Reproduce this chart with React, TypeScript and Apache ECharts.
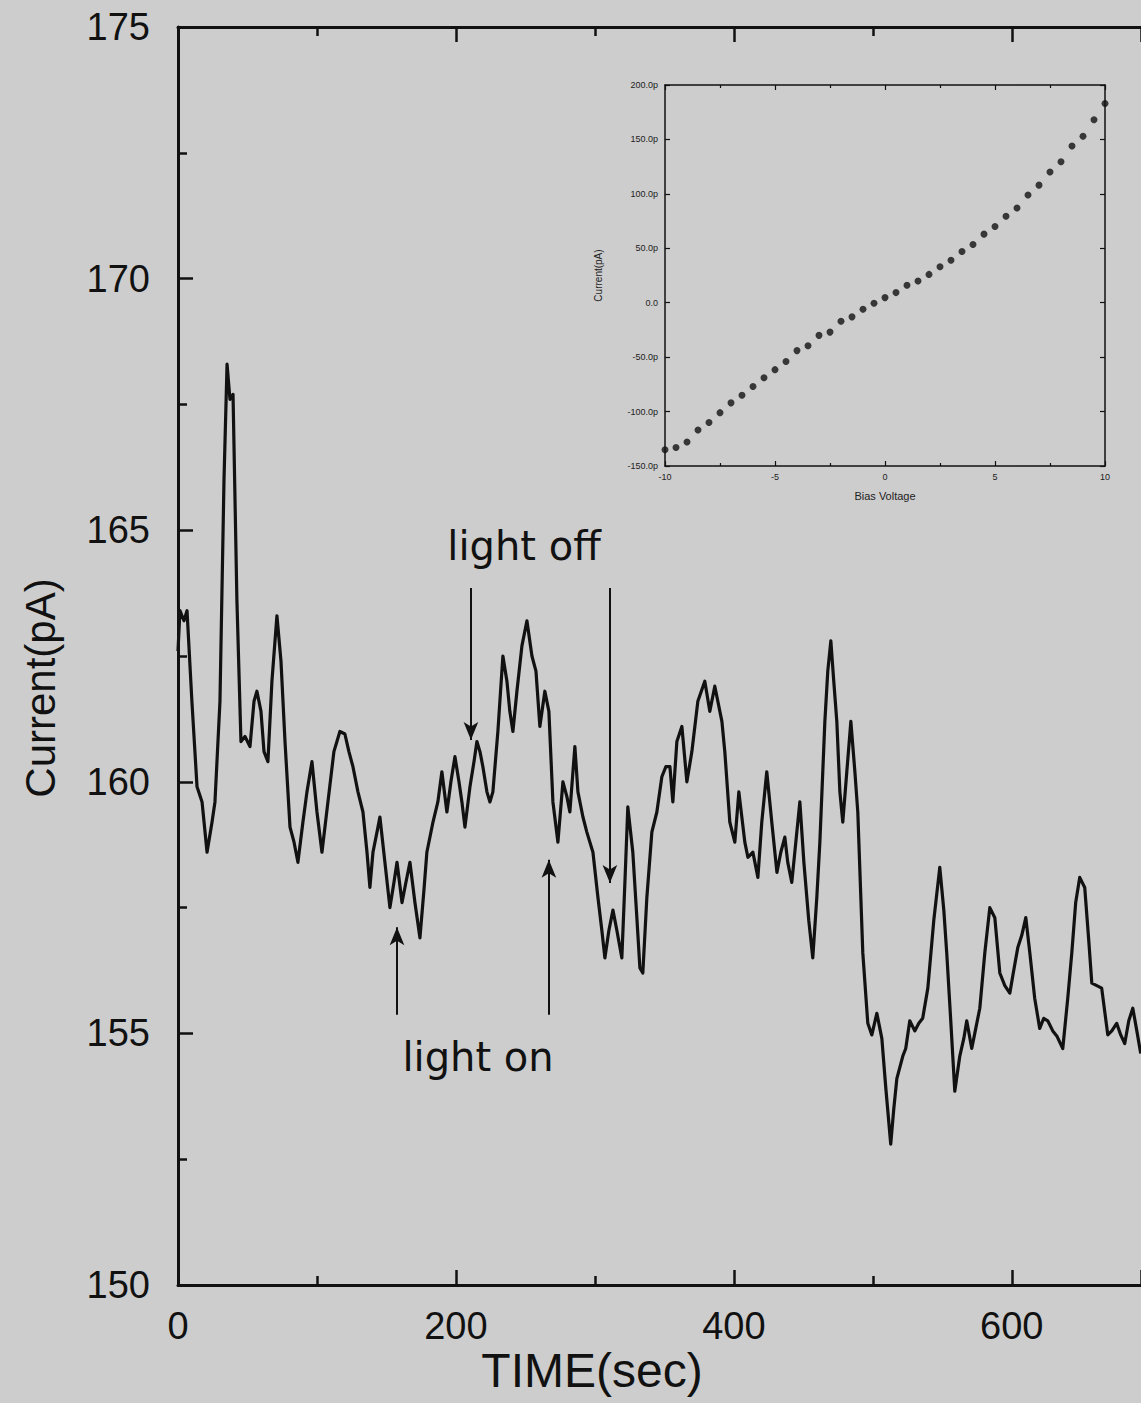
import React, { useEffect, useRef } from 'react';
import * as echarts from 'echarts';

// Main trace: time (s) and current (pA)
const timeSec = [
  0, 1.4, 4.3, 6.5, 10.0, 13.7, 17.3, 20.9, 24.5, 26.6, 30.2, 33.1, 35.3, 37.4, 39.6, 42.4, 45.3, 48.2, 51.8, 54.7,
  56.8, 59.7, 61.9, 64.7, 67.6, 71.2, 74.1, 77.0, 80.6, 83.5, 86.3, 89.9, 92.8, 96.4, 100.0, 103.6, 107.9, 112.2, 116.5, 120.1,
  123.0, 125.9, 129.5, 133.1, 136.0, 138.1, 140.3, 143.2, 145.3, 148.9, 152.5, 155.4, 157.6, 161.2, 164.0, 166.9, 170.5, 174.1, 177.0, 179.1,
  183.5, 187.0, 189.9, 193.5, 196.4, 199.3, 202.2, 204.3, 206.5, 210.1, 213.0, 215.1, 217.3, 219.4, 222.3, 224.5, 226.6, 230.2, 233.8, 236.7,
  238.8, 241.0, 243.9, 247.5, 251.1, 254.7, 257.6, 260.4, 264.0, 266.9, 269.8, 273.4, 277.0, 279.9, 282.0, 285.6, 287.8, 291.4, 294.2, 298.6,
  302.2, 305.0, 307.2, 310.1, 313.0, 315.8, 319.4, 321.6, 323.7, 327.3, 330.2, 332.4, 334.5, 337.4, 341.0, 344.6, 348.2, 351.1, 354.0, 356.1,
  359.0, 362.6, 366.2, 369.8, 374.1, 379.1, 382.7, 386.3, 391.4, 393.5, 397.1, 400.7, 403.6, 407.9, 410.1, 413.7, 417.3, 420.1, 423.7, 427.3,
  431.0, 433.8, 436.7, 438.8, 441.7, 444.6, 447.5, 450.4, 453.9, 456.8, 459.7, 461.9, 465.5, 467.6, 469.8, 471.9, 474.1, 476.3, 478.4, 481.3,
  484.2, 487.1, 489.2, 492.8, 496.4, 499.3, 502.9, 506.5, 509.4, 512.9, 515.1, 517.3, 521.6, 523.7, 526.6, 530.2, 533.1, 535.9, 539.6, 543.9,
  548.2, 551.1, 553.2, 556.1, 559.0, 562.6, 565.5, 567.6, 571.2, 574.1, 577.0, 580.6, 584.2, 587.8, 591.4, 595.0, 598.6, 601.4, 604.3, 607.2,
  610.1, 613.0, 616.5, 620.1, 623.0, 625.9, 629.5, 632.4, 636.7, 640.3, 643.2, 646.0, 648.9, 652.5, 655.4, 657.6, 661.2, 664.7, 669.1, 672.0,
  675.5, 678.4, 681.3, 684.2, 687.1, 690.0, 692.8,
];
const currentPA = [
  162.6, 163.4, 163.2, 163.4, 161.6, 159.9, 159.6, 158.6, 159.2, 159.6, 161.6, 166.0, 168.3, 167.6, 167.7, 163.6, 160.8, 160.9, 160.7, 161.6,
  161.8, 161.4, 160.6, 160.4, 162.0, 163.3, 162.4, 160.8, 159.1, 158.8, 158.4, 159.2, 159.8, 160.4, 159.4, 158.6, 159.6, 160.6, 161.0, 160.95,
  160.6, 160.3, 159.8, 159.4, 158.6, 157.9, 158.6, 159.0, 159.3, 158.4, 157.5, 158.0, 158.4, 157.6, 158.0, 158.4, 157.6, 156.9, 157.85, 158.6,
  159.2, 159.6, 160.2, 159.4, 160.0, 160.5, 160.0, 159.6, 159.1, 159.9, 160.4, 160.8, 160.6, 160.3, 159.8, 159.6, 159.8, 161.0, 162.5, 162.0,
  161.4, 161.0, 161.8, 162.7, 163.2, 162.5, 162.2, 161.1, 161.8, 161.4, 159.6, 158.8, 160.0, 159.7, 159.4, 160.7, 159.8, 159.3, 159.0, 158.6,
  157.7, 157.05, 156.5, 157.05, 157.45, 157.05, 156.5, 158.0, 159.5, 158.6, 157.3, 156.3, 156.2, 157.7, 159.0, 159.4, 160.1, 160.3, 160.3, 159.6,
  160.8, 161.1, 160.0, 160.6, 161.6, 162.0, 161.4, 161.9, 161.2, 160.6, 159.2, 158.8, 159.8, 158.8, 158.5, 158.6, 158.1, 159.2, 160.2, 159.2,
  158.2, 158.6, 158.9, 158.4, 158.0, 158.8, 159.6, 158.4, 157.25, 156.5, 157.7, 158.8, 161.2, 162.2, 162.8, 162.0, 161.2, 159.8, 159.2, 160.2,
  161.2, 160.2, 159.4, 156.6, 155.2, 154.97, 155.4, 154.9, 153.9, 152.8, 153.5, 154.1, 154.55, 154.7, 155.25, 155.05, 155.2, 155.3, 155.9, 157.25,
  158.3, 157.45, 156.6, 155.25, 153.85, 154.55, 154.9, 155.25, 154.7, 155.1, 155.5, 156.6, 157.5, 157.3, 156.2, 155.95, 155.8, 156.25, 156.7, 156.95,
  157.3, 156.6, 155.7, 155.1, 155.3, 155.25, 155.05, 154.95, 154.7, 155.7, 156.6, 157.6, 158.1, 157.9, 156.85, 156.0, 155.95, 155.9, 154.97, 155.05,
  155.2, 154.97, 154.8, 155.25, 155.5, 155.05, 154.6,
];

// Inset I-V curve
const biasVoltage = [
  -10, -9.5, -9, -8.5, -8, -7.5, -7, -6.5, -6, -5.5, -5, -4.5, -4, -3.5, -3, -2.5, -2, -1.5, -1, -0.5,
  0, 0.5, 1, 1.5, 2, 2.5, 3, 3.5, 4, 4.5, 5, 5.5, 6, 6.5, 7, 7.5, 8, 8.5, 9, 9.5, 10,
];
const ivCurrent = [
  -135, -133, -128, -117, -110, -101, -92, -85, -77, -69, -61.5, -54, -44, -39.5, -30, -27, -17, -13, -6, -0.5,
  4.7, 9.3, 16, 20, 26, 33, 39, 47, 53.5, 63, 70, 79.5, 87, 99, 108, 120, 129.5, 144, 153, 168, 183,
];

// Annotation arrows (time, start current, end current)
const arrowTimes = [210.8, 310.8, 157.6, 266.9];
const arrowFrom = [163.85, 163.85, 155.37, 155.37];
const arrowTo = [160.83, 157.99, 157.11, 158.45];

const FONT = "'Liberation Sans', Arial, sans-serif";

export default function App() {
  const ref = useRef<HTMLDivElement>(null);
  useEffect(() => {
    document.body.style.margin = '0';
    const chart = echarts.init(ref.current as HTMLDivElement, null, { renderer: 'svg' });
    const black = '#111';
    const mainAxisLine = { show: true, onZero: false, lineStyle: { color: black, width: 3 } };
    const insetAxisLine = { show: true, onZero: false, lineStyle: { color: black, width: 1.5 } };

    const arrowData = arrowTimes.map((t, i) => [
      { coord: [t, arrowFrom[i]] },
      { coord: [t, arrowTo[i]] },
    ]);

    const option: any = {
      animation: false,
      backgroundColor: '#cdcdcd',
      grid: [
        { left: 178, top: 27, width: 963, height: 1258, containLabel: false },
        { left: 665, top: 85, width: 440, height: 381, containLabel: false },
      ],
      xAxis: [
        {
          type: 'value', gridIndex: 0, position: 'bottom', min: 0, max: 693, interval: 200,
          axisLine: mainAxisLine,
          axisTick: { show: true, inside: true, length: 15, lineStyle: { color: black, width: 2.5 } },
          minorTick: { show: true, splitNumber: 2, length: 9, lineStyle: { color: black, width: 2.5 } },
          splitLine: { show: false },
          axisLabel: {
            show: true, margin: 22, fontSize: 38, fontFamily: FONT, color: black, showMaxLabel: false,
            formatter: (v: number) => (v % 200 === 0 ? String(v) : ''),
          },
        },
        {
          type: 'value', gridIndex: 0, position: 'top', min: 0, max: 693, interval: 200,
          axisLine: mainAxisLine,
          axisTick: { show: true, inside: true, length: 15, lineStyle: { color: black, width: 2.5 } },
          minorTick: { show: true, splitNumber: 2, length: 9, lineStyle: { color: black, width: 2.5 } },
          splitLine: { show: false },
          axisLabel: { show: false },
        },
        {
          type: 'value', gridIndex: 1, position: 'bottom', min: -10, max: 10, interval: 5,
          name: 'Bias Voltage', nameLocation: 'middle', nameGap: 24,
          nameTextStyle: { fontSize: 11, fontFamily: FONT, color: '#222' },
          axisLine: insetAxisLine,
          axisTick: { show: true, inside: true, length: 5, lineStyle: { color: black, width: 1.2 } },
          minorTick: { show: true, splitNumber: 2, length: 3, lineStyle: { color: black, width: 1.2 } },
          splitLine: { show: false },
          axisLabel: { show: true, margin: 6, fontSize: 9, fontFamily: FONT, color: '#222' },
        },
        {
          type: 'value', gridIndex: 1, position: 'top', min: -10, max: 10, interval: 5,
          axisLine: insetAxisLine,
          axisTick: { show: true, inside: true, length: 5, lineStyle: { color: black, width: 1.2 } },
          minorTick: { show: true, splitNumber: 2, length: 3, lineStyle: { color: black, width: 1.2 } },
          splitLine: { show: false },
          axisLabel: { show: false },
        },
      ],
      yAxis: [
        {
          type: 'value', gridIndex: 0, position: 'left', min: 150, max: 175, interval: 5,
          axisLine: mainAxisLine,
          axisTick: { show: true, inside: true, length: 15, lineStyle: { color: black, width: 2.5 } },
          minorTick: { show: true, splitNumber: 2, length: 9, lineStyle: { color: black, width: 2.5 } },
          splitLine: { show: false },
          axisLabel: { show: true, margin: 28, fontSize: 38, fontFamily: FONT, color: black },
        },
        {
          type: 'value', gridIndex: 1, position: 'left', min: -150, max: 200, interval: 50,
          name: 'Current(pA)', nameLocation: 'middle', nameGap: 62, nameRotate: 90,
          nameTextStyle: { fontSize: 10, fontFamily: FONT, color: '#222' },
          axisLine: insetAxisLine,
          axisTick: { show: true, inside: true, length: 5, lineStyle: { color: black, width: 1.2 } },
          splitLine: { show: false },
          axisLabel: {
            show: true, margin: 7, fontSize: 9, fontFamily: FONT, color: '#222',
            formatter: (v: number) => (v === 0 ? '0.0' : v.toFixed(1) + 'p'),
          },
        },
        {
          type: 'value', gridIndex: 1, position: 'right', min: -150, max: 200, interval: 50,
          axisLine: insetAxisLine,
          axisTick: { show: true, inside: true, length: 5, lineStyle: { color: black, width: 1.2 } },
          splitLine: { show: false },
          axisLabel: { show: false },
        },
      ],
      series: [
        {
          type: 'line', xAxisIndex: 0, yAxisIndex: 0,
          data: timeSec.map((t, i) => [t, currentPA[i]]),
          showSymbol: false, symbol: 'none',
          lineStyle: { color: black, width: 3.2, join: 'round' },
          markLine: {
            silent: true, animation: false,
            symbol: ['none', 'arrow'], symbolSize: [11, 18],
            lineStyle: { color: black, width: 2, type: 'solid' },
            label: { show: false },
            emphasis: { disabled: true },
            data: arrowData,
          },
        },
        {
          type: 'scatter', xAxisIndex: 2, yAxisIndex: 1,
          data: biasVoltage.map((v, i) => [v, ivCurrent[i]]),
          symbol: 'circle', symbolSize: 7,
          itemStyle: { color: '#111' },
        },
      ],
      graphic: [
        {
          type: 'text', x: 40, y: 688, rotation: Math.PI / 2,
          style: { text: 'Current(pA)', font: `42px ${FONT}`, fill: black, align: 'center', verticalAlign: 'middle' },
        },
        {
          type: 'text', x: 592, y: 1370,
          style: { text: 'TIME(sec)', font: `48px ${FONT}`, fill: black, align: 'center', verticalAlign: 'middle' },
        },
        {
          type: 'text', x: 524, y: 546,
          style: { text: 'light off', font: "40px 'DejaVu Sans', sans-serif", fill: black, align: 'center', verticalAlign: 'middle' },
        },
        {
          type: 'text', x: 478, y: 1057,
          style: { text: 'light on', font: "40px 'DejaVu Sans', sans-serif", fill: black, align: 'center', verticalAlign: 'middle' },
        },
      ],
    };
    chart.setOption(option);
    return () => chart.dispose();
  }, []);
  return <div ref={ref} style={{ position: 'absolute', left: 0, top: 0, width: 1141, height: 1403 }} />;
}
